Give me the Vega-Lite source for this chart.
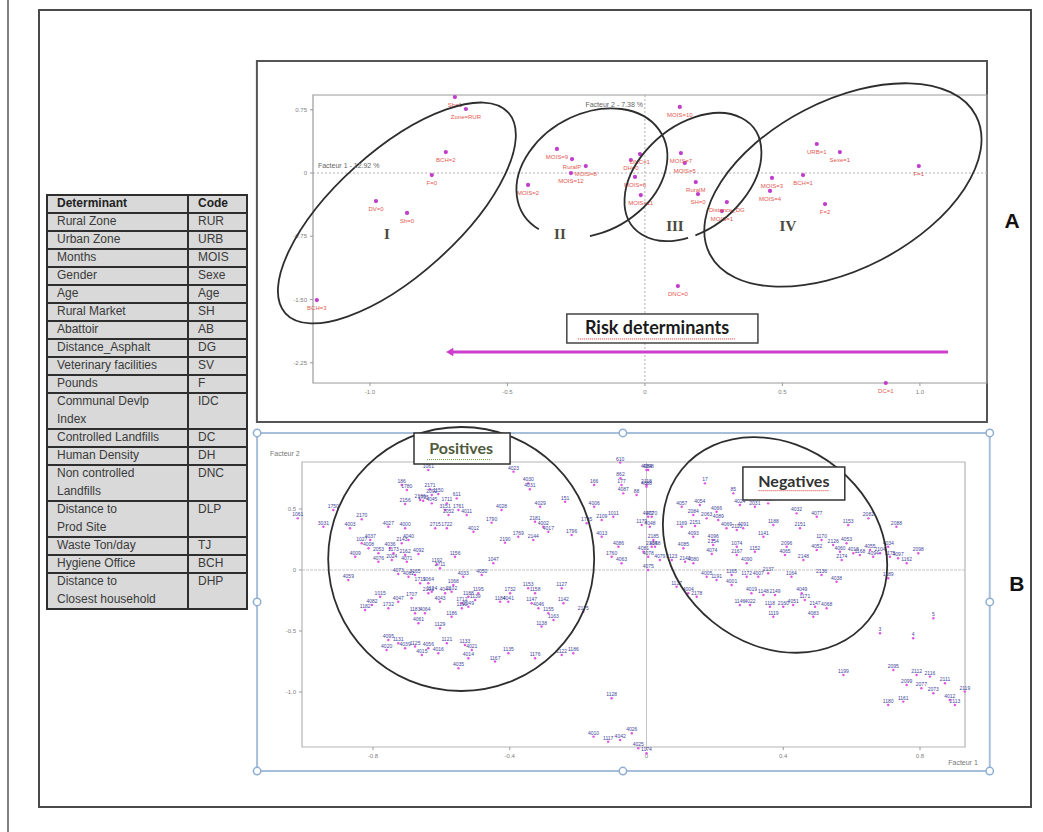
{
"$schema":"https://vega.github.io/schema/vega-lite/v6.json",
"width":992,"height":797,
"autosize":{"type":"none"},
"padding":{"left":39,"top":10,"right":12,"bottom":25},
"background":"#ffffff",
"config":{"view":{"stroke":"#4a4a4a","strokeWidth":2},"font":"Liberation Sans"},
"datasets":{
"table":[
{"det":"Determinant","code":"Code","r0":0,"r1":1},
{"det":"Rural  Zone","code":"RUR","r0":1,"r1":2},
{"det":"Urban Zone","code":"URB","r0":2,"r1":3},
{"det":"Months","code":"MOIS","r0":3,"r1":4},
{"det":"Gender","code":"Sexe","r0":4,"r1":5},
{"det":"Age","code":"Age","r0":5,"r1":6},
{"det":"Rural Market","code":"SH","r0":6,"r1":7},
{"det":"Abattoir","code":"AB","r0":7,"r1":8},
{"det":"Distance_Asphalt","code":"DG","r0":8,"r1":9},
{"det":"Veterinary facilities","code":"SV","r0":9,"r1":10},
{"det":"Pounds","code":"F","r0":10,"r1":11},
{"det":"Communal Devlp\nIndex","code":"IDC","r0":11,"r1":13},
{"det":"Controlled Landfills","code":"DC","r0":13,"r1":14},
{"det":"Human Density","code":"DH","r0":14,"r1":15},
{"det":"Non controlled\nLandfills","code":"DNC","r0":15,"r1":17},
{"det":"Distance to\nProd Site","code":"DLP","r0":17,"r1":19},
{"det":"Waste Ton/day","code":"TJ","r0":19,"r1":20},
{"det":"Hygiene Office","code":"BCH","r0":20,"r1":21},
{"det":"Distance to\nClosest household","code":"DHP","r0":21,"r1":23}
],
"ticksAx":[{"v":-1,"t":"-1.0"},{"v":-0.5,"t":"-0.5"},{"v":0,"t":"0"},{"v":0.5,"t":"0.5"},{"v":1,"t":"1.0"}],
"ticksAy":[{"v":0.75,"t":"0.75"},{"v":0,"t":"0"},{"v":-0.75,"t":"-0.75"},{"v":-1.5,"t":"-1.50"},{"v":-2.25,"t":"-2.25"}],
"ticksBx":[{"v":-0.8,"t":"-0.8"},{"v":-0.4,"t":"-0.4"},{"v":0,"t":"0"},{"v":0.4,"t":"0.4"},{"v":0.8,"t":"0.8"}],
"ticksBy":[{"v":0.5,"t":"0.5"},{"v":0,"t":"0"},{"v":-0.5,"t":"-0.5"},{"v":-1,"t":"-1.0"}],
"a":[
{"x":-0.691,"y":0.901,"label":"Sh=1"},
{"x":-0.651,"y":0.759,"label":"Zone=RUR"},
{"x":-0.724,"y":0.249,"label":"BCH=2"},
{"x":-0.775,"y":-0.024,"label":"F=0"},
{"x":-0.978,"y":-0.332,"label":"DV=0"},
{"x":-0.865,"y":-0.474,"label":"Sh=0"},
{"x":-1.193,"y":-1.506,"label":"BCH=3"},
{"x":-0.320,"y":0.285,"label":"MOIS=9"},
{"x":-0.265,"y":0.166,"label":"RuralP"},
{"x":-0.215,"y":0.083,"label":"MOIS=8"},
{"x":-0.269,"y":0.0,"label":"MOIS=12"},
{"x":-0.425,"y":-0.142,"label":"MOIS=2"},
{"x":-0.018,"y":0.225,"label":"DNC=1"},
{"x":-0.051,"y":0.154,"label":"DH=0"},
{"x":-0.036,"y":-0.047,"label":"MOIS=6"},
{"x":-0.015,"y":-0.261,"label":"MOIS=11"},
{"x":0.127,"y":0.783,"label":"MOIS=10"},
{"x":0.131,"y":0.237,"label":"MOIS=7"},
{"x":0.145,"y":0.119,"label":"MOIS=5"},
{"x":0.185,"y":-0.107,"label":"RuralM"},
{"x":0.193,"y":-0.249,"label":"SH=0"},
{"x":0.298,"y":-0.344,"label":"Distance_DG"},
{"x":0.280,"y":-0.451,"label":"MOIS=1"},
{"x":0.462,"y":-0.059,"label":"MOIS=3"},
{"x":0.455,"y":-0.213,"label":"MOIS=4"},
{"x":0.575,"y":-0.024,"label":"BCH=1"},
{"x":0.625,"y":0.344,"label":"URB=1"},
{"x":0.709,"y":0.249,"label":"Sexe=1"},
{"x":0.996,"y":0.083,"label":"F=1"},
{"x":0.655,"y":-0.368,"label":"F=2"},
{"x":0.120,"y":-1.340,"label":"DNC=0"},
{"x":0.876,"y":-2.49,"label":"DC=1"}
],
"roman":[
{"x":-0.938,"y":-0.723,"t":"I"},
{"x":-0.309,"y":-0.723,"t":"II"},
{"x":0.109,"y":-0.628,"t":"III"},
{"x":0.52,"y":-0.628,"t":"IV"}
],
"handles":[
{"x":-1.139,"y":1.123},{"x":-0.069,"y":1.123},{"x":1.004,"y":1.123},
{"x":-1.139,"y":-0.262},{"x":1.004,"y":-0.262},
{"x":-1.139,"y":-1.648},{"x":-0.069,"y":-1.648},{"x":1.004,"y":-1.648}
],
"b":[
{"x":-0.638,"y":0.820,"id":"1061"},{"x":-0.389,"y":0.806,"id":"4023"},{"x":-0.346,"y":0.710,"id":"4030"},{"x":-0.341,"y":0.661,"id":"4031"},
{"x":-0.716,"y":0.697,"id":"186"},{"x":-0.701,"y":0.656,"id":"1780"},{"x":-0.633,"y":0.661,"id":"2171"},{"x":-0.628,"y":0.615,"id":"2092"},
{"x":-0.609,"y":0.623,"id":"1150"},{"x":-0.662,"y":0.574,"id":"2166"},{"x":-0.653,"y":0.568,"id":"1735"},{"x":-0.706,"y":0.541,"id":"2156"},
{"x":-0.628,"y":0.546,"id":"4045"},{"x":-0.584,"y":0.546,"id":"1711"},{"x":-0.589,"y":0.492,"id":"3151"},{"x":-0.555,"y":0.587,"id":"611"},
{"x":-0.579,"y":0.451,"id":"2052"},{"x":-0.526,"y":0.451,"id":"4011"},{"x":-0.424,"y":0.492,"id":"4028"},{"x":-0.311,"y":0.519,"id":"4029"},
{"x":-0.238,"y":0.560,"id":"151"},{"x":-0.153,"y":0.697,"id":"166"},{"x":-0.153,"y":0.519,"id":"4006"},{"x":-0.077,"y":0.880,"id":"610"},
{"x":-0.076,"y":0.751,"id":"862"},{"x":-0.073,"y":0.697,"id":"177"},{"x":-0.068,"y":0.628,"id":"4087"},{"x":-0.029,"y":0.615,"id":"88"},
{"x":0.005,"y":0.820,"id":"4098"},{"x":0.000,"y":0.697,"id":"2118"},{"x":0.015,"y":0.437,"id":"4070"},{"x":-0.916,"y":0.492,"id":"1750"},
{"x":-1.020,"y":0.423,"id":"1061"},{"x":-0.945,"y":0.355,"id":"3031"},{"x":-0.833,"y":0.415,"id":"2170"},{"x":-0.867,"y":0.342,"id":"4003"},
{"x":-0.755,"y":0.355,"id":"4027"},{"x":-0.706,"y":0.342,"id":"4000"},{"x":-0.618,"y":0.342,"id":"2715"},{"x":-0.584,"y":0.342,"id":"1722"},
{"x":-0.506,"y":0.314,"id":"4012"},{"x":-0.453,"y":0.388,"id":"1790"},{"x":-0.326,"y":0.396,"id":"2181"},{"x":-0.302,"y":0.355,"id":"4002"},
{"x":-0.287,"y":0.314,"id":"4017"},{"x":-0.219,"y":0.287,"id":"1796"},{"x":-0.175,"y":0.383,"id":"1785"},{"x":-0.131,"y":0.410,"id":"2109"},
{"x":-0.097,"y":0.437,"id":"1011"},{"x":-0.131,"y":0.273,"id":"4013"},{"x":-0.082,"y":0.191,"id":"4086"},{"x":-0.102,"y":0.109,"id":"1760"},
{"x":-0.073,"y":0.055,"id":"4063"},{"x":-0.009,"y":0.150,"id":"4081"},{"x":0.015,"y":0.191,"id":"2134"},{"x":-0.014,"y":0.369,"id":"1179"},
{"x":-0.808,"y":0.246,"id":"4037"},{"x":-0.833,"y":0.219,"id":"1027"},{"x":-0.813,"y":0.178,"id":"4008"},{"x":-0.784,"y":0.137,"id":"2053"},
{"x":-0.852,"y":0.109,"id":"4009"},{"x":-0.750,"y":0.178,"id":"4036"},{"x":-0.716,"y":0.219,"id":"2143"},{"x":-0.696,"y":0.246,"id":"4040"},
{"x":-0.740,"y":0.137,"id":"1173"},{"x":-0.706,"y":0.123,"id":"2162"},{"x":-0.667,"y":0.131,"id":"4092"},{"x":-0.784,"y":0.068,"id":"4076"},
{"x":-0.745,"y":0.082,"id":"2024"},{"x":-0.701,"y":0.068,"id":"4071"},{"x":-0.613,"y":0.046,"id":"1192"},{"x":-0.560,"y":0.109,"id":"1156"},
{"x":-0.872,"y":-0.082,"id":"4059"},{"x":-0.726,"y":-0.033,"id":"4073"},{"x":-0.696,"y":-0.055,"id":"4062"},{"x":-0.677,"y":-0.041,"id":"3165"},
{"x":-0.604,"y":0.014,"id":"2711"},{"x":-0.536,"y":-0.055,"id":"4033"},{"x":-0.482,"y":-0.041,"id":"4050"},{"x":-0.448,"y":0.055,"id":"1047"},
{"x":-0.375,"y":0.273,"id":"1769"},{"x":-0.331,"y":0.246,"id":"2144"},{"x":-0.414,"y":0.224,"id":"2190"},{"x":-0.550,"y":0.492,"id":"1761"},
{"x":-0.662,"y":-0.109,"id":"1719"},{"x":-0.638,"y":-0.109,"id":"1064"},{"x":-0.628,"y":-0.178,"id":"1124"},{"x":-0.565,"y":-0.123,"id":"1068"},
{"x":-0.570,"y":-0.178,"id":"2102"},{"x":-0.589,"y":-0.191,"id":"4044"},{"x":-0.521,"y":-0.219,"id":"1188"},{"x":-0.492,"y":-0.191,"id":"1195"},
{"x":-0.501,"y":-0.246,"id":"1139"},{"x":-0.540,"y":-0.273,"id":"1712"},{"x":-0.604,"y":-0.260,"id":"4043"},{"x":-0.638,"y":-0.191,"id":"2193"},
{"x":-0.687,"y":-0.232,"id":"1707"},{"x":-0.726,"y":-0.260,"id":"4047"},{"x":-0.779,"y":-0.219,"id":"1015"},{"x":-0.803,"y":-0.287,"id":"4082"},
{"x":-0.755,"y":-0.314,"id":"1732"},{"x":-0.823,"y":-0.328,"id":"1182"},{"x":-0.677,"y":-0.355,"id":"1183"},{"x":-0.648,"y":-0.355,"id":"4064"},
{"x":-0.667,"y":-0.437,"id":"4061"},{"x":-0.604,"y":-0.478,"id":"1129"},{"x":-0.570,"y":-0.383,"id":"1186"},{"x":-0.540,"y":-0.314,"id":"1190"},
{"x":-0.521,"y":-0.301,"id":"2049"},{"x":-0.428,"y":-0.260,"id":"1184"},{"x":-0.399,"y":-0.191,"id":"1732"},{"x":-0.404,"y":-0.260,"id":"4041"},
{"x":-0.346,"y":-0.150,"id":"1153"},{"x":-0.326,"y":-0.191,"id":"1158"},{"x":-0.336,"y":-0.273,"id":"1147"},{"x":-0.316,"y":-0.314,"id":"4046"},
{"x":-0.287,"y":-0.355,"id":"1155"},{"x":-0.272,"y":-0.410,"id":"1163"},{"x":-0.248,"y":-0.150,"id":"1127"},{"x":-0.243,"y":-0.273,"id":"1142"},
{"x":-0.185,"y":-0.342,"id":"2175"},{"x":-0.307,"y":-0.464,"id":"1138"},{"x":-0.755,"y":-0.574,"id":"4095"},{"x":-0.726,"y":-0.601,"id":"1131"},
{"x":-0.760,"y":-0.656,"id":"4020"},{"x":-0.706,"y":-0.642,"id":"4039"},{"x":-0.677,"y":-0.628,"id":"1125"},{"x":-0.657,"y":-0.697,"id":"4015"},
{"x":-0.638,"y":-0.642,"id":"4056"},{"x":-0.609,"y":-0.683,"id":"4016"},{"x":-0.584,"y":-0.601,"id":"1121"},{"x":-0.531,"y":-0.615,"id":"1133"},
{"x":-0.511,"y":-0.656,"id":"4021"},{"x":-0.521,"y":-0.724,"id":"4014"},{"x":-0.550,"y":-0.806,"id":"4035"},{"x":-0.443,"y":-0.751,"id":"1167"},
{"x":-0.404,"y":-0.683,"id":"1135"},{"x":-0.326,"y":-0.724,"id":"1176"},{"x":-0.248,"y":-0.697,"id":"1122"},{"x":-0.214,"y":-0.683,"id":"1186"},
{"x":-0.102,"y":-1.052,"id":"1128"},{"x":-0.155,"y":-1.366,"id":"4010"},{"x":-0.112,"y":-1.407,"id":"1117"},{"x":-0.077,"y":-1.393,"id":"4042"},
{"x":-0.043,"y":-1.339,"id":"4026"},{"x":-0.024,"y":-1.462,"id":"4025"},{"x":0.000,"y":-1.503,"id":"1174"},{"x":0.000,"y":0.820,"id":"4084"},
{"x":0.000,"y":0.683,"id":"4088"},{"x":0.005,"y":0.437,"id":"4072"},{"x":0.010,"y":0.355,"id":"4048"},{"x":0.020,"y":0.246,"id":"2185"},
{"x":0.025,"y":0.191,"id":"4058"},{"x":0.005,"y":0.109,"id":"4078"},{"x":0.039,"y":0.082,"id":"4079"},{"x":0.074,"y":0.082,"id":"2123"},
{"x":0.005,"y":0.000,"id":"4075"},{"x":0.088,"y":-0.137,"id":"1137"},{"x":0.171,"y":0.710,"id":"17"},{"x":0.254,"y":0.628,"id":"85"},
{"x":0.103,"y":0.519,"id":"4057"},{"x":0.156,"y":0.533,"id":"4054"},{"x":0.137,"y":0.451,"id":"2084"},{"x":0.205,"y":0.478,"id":"4066"},
{"x":0.176,"y":0.423,"id":"2063"},{"x":0.210,"y":0.410,"id":"4089"},{"x":0.273,"y":0.533,"id":"4024"},{"x":0.317,"y":0.519,"id":"2031"},
{"x":0.356,"y":0.546,"id":"4067"},{"x":0.103,"y":0.355,"id":"1169"},{"x":0.142,"y":0.361,"id":"2151"},{"x":0.234,"y":0.342,"id":"4069"},
{"x":0.264,"y":0.328,"id":"2110"},{"x":0.283,"y":0.342,"id":"4091"},{"x":0.371,"y":0.369,"id":"1188"},{"x":0.439,"y":0.464,"id":"4032"},
{"x":0.449,"y":0.342,"id":"2151"},{"x":0.498,"y":0.437,"id":"4077"},{"x":0.590,"y":0.369,"id":"1153"},{"x":0.649,"y":0.423,"id":"2082"},
{"x":0.731,"y":0.355,"id":"2088"},{"x":0.137,"y":0.273,"id":"4093"},{"x":0.195,"y":0.246,"id":"4096"},{"x":0.195,"y":0.205,"id":"2154"},
{"x":0.264,"y":0.191,"id":"1074"},{"x":0.342,"y":0.273,"id":"1141"},{"x":0.108,"y":0.178,"id":"4085"},{"x":0.191,"y":0.131,"id":"4074"},
{"x":0.113,"y":0.068,"id":"2140"},{"x":0.137,"y":0.055,"id":"4080"},{"x":0.264,"y":0.123,"id":"2167"},{"x":0.317,"y":0.150,"id":"1152"},
{"x":0.293,"y":0.055,"id":"4090"},{"x":0.410,"y":0.191,"id":"2096"},{"x":0.405,"y":0.123,"id":"4065"},{"x":0.459,"y":0.082,"id":"2148"},
{"x":0.498,"y":0.164,"id":"4052"},{"x":0.512,"y":0.246,"id":"1170"},{"x":0.546,"y":0.205,"id":"2126"},{"x":0.566,"y":0.150,"id":"4060"},
{"x":0.585,"y":0.219,"id":"4053"},{"x":0.571,"y":0.082,"id":"2174"},{"x":0.605,"y":0.137,"id":"4018"},{"x":0.624,"y":0.123,"id":"1168"},
{"x":0.654,"y":0.164,"id":"4055"},{"x":0.663,"y":0.109,"id":"4094"},{"x":0.683,"y":0.137,"id":"2104"},{"x":0.707,"y":0.191,"id":"4034"},
{"x":0.712,"y":0.109,"id":"1175"},{"x":0.736,"y":0.096,"id":"4097"},{"x":0.761,"y":0.055,"id":"1162"},{"x":0.795,"y":0.137,"id":"2098"},
{"x":0.176,"y":-0.055,"id":"4005"},{"x":0.205,"y":-0.082,"id":"1191"},{"x":0.249,"y":-0.041,"id":"1165"},{"x":0.249,"y":-0.123,"id":"4001"},
{"x":0.293,"y":-0.055,"id":"1172"},{"x":0.327,"y":-0.055,"id":"4007"},{"x":0.356,"y":-0.027,"id":"2137"},{"x":0.424,"y":-0.055,"id":"1164"},
{"x":0.512,"y":-0.041,"id":"2136"},{"x":0.556,"y":-0.096,"id":"4038"},{"x":0.707,"y":-0.068,"id":"1189"},{"x":0.122,"y":-0.191,"id":"4004"},
{"x":0.147,"y":-0.219,"id":"2178"},{"x":0.307,"y":-0.191,"id":"4019"},{"x":0.342,"y":-0.205,"id":"1148"},{"x":0.376,"y":-0.205,"id":"2149"},
{"x":0.454,"y":-0.191,"id":"4049"},{"x":0.463,"y":-0.246,"id":"1171"},{"x":0.273,"y":-0.287,"id":"1146"},{"x":0.303,"y":-0.287,"id":"4022"},
{"x":0.361,"y":-0.301,"id":"1118"},{"x":0.400,"y":-0.301,"id":"2160"},{"x":0.429,"y":-0.287,"id":"4051"},{"x":0.493,"y":-0.301,"id":"2147"},
{"x":0.527,"y":-0.314,"id":"4068"},{"x":0.371,"y":-0.383,"id":"1119"},{"x":0.488,"y":-0.383,"id":"4083"},{"x":0.839,"y":-0.396,"id":"5"},
{"x":0.683,"y":-0.519,"id":"3"},{"x":0.780,"y":-0.560,"id":"4"},{"x":0.576,"y":-0.861,"id":"1199"},{"x":0.722,"y":-0.820,"id":"2095"},
{"x":0.790,"y":-0.861,"id":"2112"},{"x":0.829,"y":-0.874,"id":"2116"},{"x":0.761,"y":-0.943,"id":"2099"},{"x":0.804,"y":-0.970,"id":"2077"},
{"x":0.839,"y":-1.011,"id":"2073"},{"x":0.873,"y":-0.929,"id":"2111"},{"x":0.887,"y":-1.066,"id":"4012"},{"x":0.931,"y":-0.997,"id":"2119"},
{"x":0.902,"y":-1.107,"id":"2113"},{"x":0.707,"y":-1.107,"id":"1180"},{"x":0.751,"y":-1.079,"id":"1161"}
]
},
"resolve":{"scale":{"x":"independent","y":"independent"}},
"layer":[
{
"layer":[
{"data":{"values":[{}]},"mark":{"type":"rule","stroke":"#000000","strokeWidth":1},
 "encoding":{"x":{"datum":-0.195,"type":"quantitative","scale":{"domain":[0,1],"range":[8,208],"nice":false,"zero":false},"axis":null},
 "y":{"datum":-10.9,"type":"quantitative","scale":{"domain":[0,23],"range":[185,599],"nice":false,"zero":false},"axis":null},"y2":{"datum":35.5}}},
{"data":{"name":"table"},"mark":{"type":"rect","fill":"#d9d9d9","stroke":"#2e2e2e","strokeWidth":2},
 "encoding":{"x":{"datum":0,"type":"quantitative","scale":{"domain":[0,1],"range":[8,208],"nice":false,"zero":false},"axis":null},"x2":{"datum":1},
 "y":{"field":"r0","type":"quantitative","scale":{"domain":[0,23],"range":[185,599],"nice":false,"zero":false},"axis":null},"y2":{"field":"r1"}}},
{"data":{"values":[{}]},"mark":{"type":"rule","stroke":"#2e2e2e","strokeWidth":2},
 "encoding":{"x":{"datum":0.705,"type":"quantitative","scale":{"domain":[0,1],"range":[8,208],"nice":false,"zero":false},"axis":null},
 "y":{"datum":0,"type":"quantitative","scale":{"domain":[0,23],"range":[185,599],"nice":false,"zero":false},"axis":null},"y2":{"datum":23}}},
{"data":{"name":"table"},"transform":[{"filter":"datum.r0 > 0"}],
 "mark":{"type":"text","align":"left","baseline":"top","dx":10,"dy":3,"fontSize":12,"lineHeight":18,"lineBreak":"\n","color":"#3a3a3a","font":"Liberation Sans"},
 "encoding":{"x":{"datum":0,"type":"quantitative","scale":{"domain":[0,1],"range":[8,208],"nice":false,"zero":false},"axis":null},
 "y":{"field":"r0","type":"quantitative","scale":{"domain":[0,23],"range":[185,599],"nice":false,"zero":false},"axis":null},"text":{"field":"det"}}},
{"data":{"name":"table"},"transform":[{"filter":"datum.r0 > 0"}],
 "mark":{"type":"text","align":"left","baseline":"top","dx":10,"dy":3,"fontSize":12,"color":"#3a3a3a","font":"Liberation Sans"},
 "encoding":{"x":{"datum":0.705,"type":"quantitative","scale":{"domain":[0,1],"range":[8,208],"nice":false,"zero":false},"axis":null},
 "y":{"field":"r0","type":"quantitative","scale":{"domain":[0,23],"range":[185,599],"nice":false,"zero":false},"axis":null},"text":{"field":"code"}}},
{"data":{"name":"table"},"transform":[{"filter":"datum.r0 == 0"}],
 "mark":{"type":"text","align":"left","baseline":"top","dx":10,"dy":3,"fontSize":12,"fontWeight":"bold","color":"#222222","font":"Liberation Sans"},
 "encoding":{"x":{"datum":0,"type":"quantitative","scale":{"domain":[0,1],"range":[8,208],"nice":false,"zero":false},"axis":null},
 "y":{"field":"r0","type":"quantitative","scale":{"domain":[0,23],"range":[185,599],"nice":false,"zero":false},"axis":null},"text":{"field":"det"}}},
{"data":{"name":"table"},"transform":[{"filter":"datum.r0 == 0"}],
 "mark":{"type":"text","align":"left","baseline":"top","dx":10,"dy":3,"fontSize":12,"fontWeight":"bold","color":"#222222","font":"Liberation Sans"},
 "encoding":{"x":{"datum":0.705,"type":"quantitative","scale":{"domain":[0,1],"range":[8,208],"nice":false,"zero":false},"axis":null},
 "y":{"field":"r0","type":"quantitative","scale":{"domain":[0,23],"range":[185,599],"nice":false,"zero":false},"axis":null},"text":{"field":"code"}}}
]
},
{
"layer":[
{"data":{"values":[{}]},"mark":{"type":"rect","fillOpacity":0,"stroke":"#555555","strokeWidth":2},
 "encoding":{"x":{"datum":-1.411,"type":"quantitative","scale":{"domain":[-1.207,1.244],"range":[274,948],"nice":false,"zero":false},"axis":null},"x2":{"datum":1.244},
 "y":{"datum":1.328,"type":"quantitative","scale":{"domain":[-2.49,0.925],"range":[373,85],"nice":false,"zero":false},"axis":null},"y2":{"datum":-2.953}}},
{"data":{"values":[{}]},"mark":{"type":"rect","fillOpacity":0,"stroke":"#9a9a9a","strokeWidth":1.2},
 "encoding":{"x":{"datum":-1.207,"type":"quantitative","scale":{"domain":[-1.207,1.244],"range":[274,948],"nice":false,"zero":false},"axis":null},"x2":{"datum":1.244},
 "y":{"datum":0.925,"type":"quantitative","scale":{"domain":[-2.49,0.925],"range":[373,85],"nice":false,"zero":false},"axis":null},"y2":{"datum":-2.49}}},
{"data":{"values":[{}]},"mark":{"type":"rule","stroke":"#b0b0b0","strokeWidth":1,"strokeDash":[2,2]},
 "encoding":{"x":{"datum":0,"type":"quantitative","scale":{"domain":[-1.207,1.244],"range":[274,948],"nice":false,"zero":false},"axis":null},
 "y":{"datum":0.925,"type":"quantitative","scale":{"domain":[-2.49,0.925],"range":[373,85],"nice":false,"zero":false},"axis":null},"y2":{"datum":-2.49}}},
{"data":{"values":[{}]},"mark":{"type":"rule","stroke":"#b0b0b0","strokeWidth":1,"strokeDash":[2,2]},
 "encoding":{"x":{"datum":-1.207,"type":"quantitative","scale":{"domain":[-1.207,1.244],"range":[274,948],"nice":false,"zero":false},"axis":null},"x2":{"datum":1.244},
 "y":{"datum":0,"type":"quantitative","scale":{"domain":[-2.49,0.925],"range":[373,85],"nice":false,"zero":false},"axis":null}}},
{"data":{"name":"ticksAy"},"mark":{"type":"rule","stroke":"#999999","strokeWidth":1},
 "encoding":{"x":{"datum":-1.207,"type":"quantitative","scale":{"domain":[-1.207,1.244],"range":[274,948],"nice":false,"zero":false},"axis":null},"x2":{"datum":-1.218},
 "y":{"field":"v","type":"quantitative","scale":{"domain":[-2.49,0.925],"range":[373,85],"nice":false,"zero":false},"axis":null}}},
{"data":{"name":"ticksAy"},"mark":{"type":"text","align":"right","baseline":"middle","dx":-6,"fontSize":6,"color":"#808080"},
 "encoding":{"x":{"datum":-1.207,"type":"quantitative","scale":{"domain":[-1.207,1.244],"range":[274,948],"nice":false,"zero":false},"axis":null},
 "y":{"field":"v","type":"quantitative","scale":{"domain":[-2.49,0.925],"range":[373,85],"nice":false,"zero":false},"axis":null},"text":{"field":"t"}}},
{"data":{"name":"ticksAx"},"mark":{"type":"rule","stroke":"#999999","strokeWidth":1},
 "encoding":{"x":{"field":"v","type":"quantitative","scale":{"domain":[-1.207,1.244],"range":[274,948],"nice":false,"zero":false},"axis":null},
 "y":{"datum":-2.49,"type":"quantitative","scale":{"domain":[-2.49,0.925],"range":[373,85],"nice":false,"zero":false},"axis":null},"y2":{"datum":-2.526}}},
{"data":{"name":"ticksAx"},"mark":{"type":"text","align":"center","baseline":"top","dy":6,"fontSize":6,"color":"#808080"},
 "encoding":{"x":{"field":"v","type":"quantitative","scale":{"domain":[-1.207,1.244],"range":[274,948],"nice":false,"zero":false},"axis":null},
 "y":{"datum":-2.49,"type":"quantitative","scale":{"domain":[-2.49,0.925],"range":[373,85],"nice":false,"zero":false},"axis":null},"text":{"field":"t"}}},
{"data":{"name":"a"},"mark":{"type":"point","filled":true,"size":18,"color":"#c13ecb","opacity":1},
 "encoding":{"x":{"field":"x","type":"quantitative","scale":{"domain":[-1.207,1.244],"range":[274,948],"nice":false,"zero":false},"axis":null},
 "y":{"field":"y","type":"quantitative","scale":{"domain":[-2.49,0.925],"range":[373,85],"nice":false,"zero":false},"axis":null}}},
{"data":{"name":"a"},"mark":{"type":"text","fontSize":6,"color":"#e4574f","dy":8,"align":"center"},
 "encoding":{"x":{"field":"x","type":"quantitative","scale":{"domain":[-1.207,1.244],"range":[274,948],"nice":false,"zero":false},"axis":null},
 "y":{"field":"y","type":"quantitative","scale":{"domain":[-2.49,0.925],"range":[373,85],"nice":false,"zero":false},"axis":null},"text":{"field":"label"}}},
{"data":{"values":[{}]},"mark":{"type":"point","shape":"M -150 0 A 150 62 0 1 1 150 0 A 150 62 0 1 1 -150 0 Z","size":4,"angle":-42,"filled":false,"stroke":"#2e2e2e","strokeWidth":1.8,"opacity":1},
 "encoding":{"x":{"datum":-0.902,"type":"quantitative","scale":{"domain":[-1.207,1.244],"range":[274,948],"nice":false,"zero":false},"axis":null},
 "y":{"datum":-0.474,"type":"quantitative","scale":{"domain":[-2.49,0.925],"range":[373,85],"nice":false,"zero":false},"axis":null}}},
{"data":{"values":[{}]},"mark":{"type":"point","shape":"M -73.8 22.8 A 80 59 0 1 1 -32.7 53.9","size":4,"angle":-29.5,"filled":false,"stroke":"#2e2e2e","strokeWidth":1.8,"opacity":1},
 "encoding":{"x":{"datum":-0.193,"type":"quantitative","scale":{"domain":[-1.207,1.244],"range":[274,948],"nice":false,"zero":false},"axis":null},
 "y":{"datum":0,"type":"quantitative","scale":{"domain":[-2.49,0.925],"range":[373,85],"nice":false,"zero":false},"axis":null}}},
{"data":{"values":[{}]},"mark":{"type":"point","shape":"M -42.9 43.4 A 78 52 0 1 1 -35.7 46.2","size":4,"angle":-40,"filled":false,"stroke":"#2e2e2e","strokeWidth":1.8,"opacity":1},
 "encoding":{"x":{"datum":0.175,"type":"quantitative","scale":{"domain":[-1.207,1.244],"range":[274,948],"nice":false,"zero":false},"axis":null},
 "y":{"datum":-0.047,"type":"quantitative","scale":{"domain":[-2.49,0.925],"range":[373,85],"nice":false,"zero":false},"axis":null}}},
{"data":{"values":[{}]},"mark":{"type":"point","shape":"M -150 0 A 150 84 0 1 1 150 0 A 150 84 0 1 1 -150 0 Z","size":4,"angle":-27.5,"filled":false,"stroke":"#2e2e2e","strokeWidth":1.8,"opacity":1},
 "encoding":{"x":{"datum":0.72,"type":"quantitative","scale":{"domain":[-1.207,1.244],"range":[274,948],"nice":false,"zero":false},"axis":null},
 "y":{"datum":-0.142,"type":"quantitative","scale":{"domain":[-2.49,0.925],"range":[373,85],"nice":false,"zero":false},"axis":null}}},
{"data":{"name":"roman"},"mark":{"type":"text","fontSize":15,"fontWeight":"bold","font":"Liberation Serif","color":"#4a4a40"},
 "encoding":{"x":{"field":"x","type":"quantitative","scale":{"domain":[-1.207,1.244],"range":[274,948],"nice":false,"zero":false},"axis":null},
 "y":{"field":"y","type":"quantitative","scale":{"domain":[-2.49,0.925],"range":[373,85],"nice":false,"zero":false},"axis":null},"text":{"field":"t"}}},
{"data":{"values":[{}]},"mark":{"type":"rect","fill":"#ffffff","stroke":"#444444","strokeWidth":1.5},
 "encoding":{"x":{"datum":-0.284,"type":"quantitative","scale":{"domain":[-1.207,1.244],"range":[274,948],"nice":false,"zero":false},"axis":null},"x2":{"datum":0.411},
 "y":{"datum":-1.672,"type":"quantitative","scale":{"domain":[-2.49,0.925],"range":[373,85],"nice":false,"zero":false},"axis":null},"y2":{"datum":-2.016}}},
{"data":{"values":[{}]},"mark":{"type":"text","text":"Risk determinants","fontSize":18,"fontWeight":"bold","font":"Lato","color":"#1a1a1a"},
 "encoding":{"x":{"datum":0.044,"type":"quantitative","scale":{"domain":[-1.207,1.244],"range":[274,948],"nice":false,"zero":false},"axis":null},
 "y":{"datum":-1.85,"type":"quantitative","scale":{"domain":[-2.49,0.925],"range":[373,85],"nice":false,"zero":false},"axis":null}}},
{"data":{"values":[{}]},"mark":{"type":"rule","stroke":"#e03030","strokeWidth":1,"strokeDash":[1,1]},
 "encoding":{"x":{"datum":-0.244,"type":"quantitative","scale":{"domain":[-1.207,1.244],"range":[274,948],"nice":false,"zero":false},"axis":null},"x2":{"datum":0.327},
 "y":{"datum":-1.968,"type":"quantitative","scale":{"domain":[-2.49,0.925],"range":[373,85],"nice":false,"zero":false},"axis":null}}},
{"data":{"values":[{}]},"mark":{"type":"rule","stroke":"#cc3fcc","strokeWidth":3},
 "encoding":{"x":{"datum":-0.70,"type":"quantitative","scale":{"domain":[-1.207,1.244],"range":[274,948],"nice":false,"zero":false},"axis":null},"x2":{"datum":1.102},
 "y":{"datum":-2.123,"type":"quantitative","scale":{"domain":[-2.49,0.925],"range":[373,85],"nice":false,"zero":false},"axis":null}}},
{"data":{"values":[{}]},"mark":{"type":"point","shape":"triangle-left","size":70,"filled":true,"color":"#cc3fcc","opacity":1},
 "encoding":{"x":{"datum":-0.71,"type":"quantitative","scale":{"domain":[-1.207,1.244],"range":[274,948],"nice":false,"zero":false},"axis":null},
 "y":{"datum":-2.123,"type":"quantitative","scale":{"domain":[-2.49,0.925],"range":[373,85],"nice":false,"zero":false},"axis":null}}},
{"data":{"values":[{}]},"mark":{"type":"text","text":"Facteur 1 - 12.92 %","fontSize":7,"align":"left","color":"#666666"},
 "encoding":{"x":{"datum":-1.189,"type":"quantitative","scale":{"domain":[-1.207,1.244],"range":[274,948],"nice":false,"zero":false},"axis":null},
 "y":{"datum":0.083,"type":"quantitative","scale":{"domain":[-2.49,0.925],"range":[373,85],"nice":false,"zero":false},"axis":null}}},
{"data":{"values":[{}]},"mark":{"type":"text","text":"Facteur 2 - 7.38 %","fontSize":7,"align":"right","color":"#666666"},
 "encoding":{"x":{"datum":-0.007,"type":"quantitative","scale":{"domain":[-1.207,1.244],"range":[274,948],"nice":false,"zero":false},"axis":null},
 "y":{"datum":0.806,"type":"quantitative","scale":{"domain":[-2.49,0.925],"range":[373,85],"nice":false,"zero":false},"axis":null}}},
{"data":{"values":[{}]},"mark":{"type":"text","text":"A","fontSize":21,"fontWeight":"bold","color":"#111111","font":"Liberation Sans"},
 "encoding":{"x":{"datum":1.335,"type":"quantitative","scale":{"domain":[-1.207,1.244],"range":[274,948],"nice":false,"zero":false},"axis":null},
 "y":{"datum":-0.581,"type":"quantitative","scale":{"domain":[-2.49,0.925],"range":[373,85],"nice":false,"zero":false},"axis":null}}}
]
},
{
"layer":[
{"data":{"values":[{}]},"mark":{"type":"rect","fillOpacity":0,"stroke":"#a7bfdb","strokeWidth":2},
 "encoding":{"x":{"datum":-1.139,"type":"quantitative","scale":{"domain":[-1.0076,0.9316],"range":[263,926],"nice":false,"zero":false},"axis":null},"x2":{"datum":1.004},
 "y":{"datum":1.123,"type":"quantitative","scale":{"domain":[-1.451,0.885],"range":[737,452],"nice":false,"zero":false},"axis":null},"y2":{"datum":-1.648}}},
{"data":{"values":[{}]},"mark":{"type":"rect","fillOpacity":0,"stroke":"#b5b5b5","strokeWidth":1.2},
 "encoding":{"x":{"datum":-1.0076,"type":"quantitative","scale":{"domain":[-1.0076,0.9316],"range":[263,926],"nice":false,"zero":false},"axis":null},"x2":{"datum":0.9316},
 "y":{"datum":0.885,"type":"quantitative","scale":{"domain":[-1.451,0.885],"range":[737,452],"nice":false,"zero":false},"axis":null},"y2":{"datum":-1.451}}},
{"data":{"values":[{}]},"mark":{"type":"rule","stroke":"#c4c4c4","strokeWidth":1},
 "encoding":{"x":{"datum":0,"type":"quantitative","scale":{"domain":[-1.0076,0.9316],"range":[263,926],"nice":false,"zero":false},"axis":null},
 "y":{"datum":0.885,"type":"quantitative","scale":{"domain":[-1.451,0.885],"range":[737,452],"nice":false,"zero":false},"axis":null},"y2":{"datum":-1.451}}},
{"data":{"values":[{}]},"mark":{"type":"rule","stroke":"#c4c4c4","strokeWidth":1,"strokeDash":[3,1]},
 "encoding":{"x":{"datum":-1.0076,"type":"quantitative","scale":{"domain":[-1.0076,0.9316],"range":[263,926],"nice":false,"zero":false},"axis":null},"x2":{"datum":0.9316},
 "y":{"datum":0,"type":"quantitative","scale":{"domain":[-1.451,0.885],"range":[737,452],"nice":false,"zero":false},"axis":null}}},
{"data":{"name":"ticksBy"},"mark":{"type":"rule","stroke":"#999999","strokeWidth":1},
 "encoding":{"x":{"datum":-1.0076,"type":"quantitative","scale":{"domain":[-1.0076,0.9316],"range":[263,926],"nice":false,"zero":false},"axis":null},"x2":{"datum":-1.0164},
 "y":{"field":"v","type":"quantitative","scale":{"domain":[-1.451,0.885],"range":[737,452],"nice":false,"zero":false},"axis":null}}},
{"data":{"name":"ticksBy"},"mark":{"type":"text","align":"right","baseline":"middle","dx":-6,"fontSize":6,"color":"#808080"},
 "encoding":{"x":{"datum":-1.0076,"type":"quantitative","scale":{"domain":[-1.0076,0.9316],"range":[263,926],"nice":false,"zero":false},"axis":null},
 "y":{"field":"v","type":"quantitative","scale":{"domain":[-1.451,0.885],"range":[737,452],"nice":false,"zero":false},"axis":null},"text":{"field":"t"}}},
{"data":{"name":"ticksBx"},"mark":{"type":"rule","stroke":"#999999","strokeWidth":1},
 "encoding":{"x":{"field":"v","type":"quantitative","scale":{"domain":[-1.0076,0.9316],"range":[263,926],"nice":false,"zero":false},"axis":null},
 "y":{"datum":-1.451,"type":"quantitative","scale":{"domain":[-1.451,0.885],"range":[737,452],"nice":false,"zero":false},"axis":null},"y2":{"datum":-1.476}}},
{"data":{"name":"ticksBx"},"mark":{"type":"text","align":"center","baseline":"top","dy":6,"fontSize":6,"color":"#808080"},
 "encoding":{"x":{"field":"v","type":"quantitative","scale":{"domain":[-1.0076,0.9316],"range":[263,926],"nice":false,"zero":false},"axis":null},
 "y":{"datum":-1.451,"type":"quantitative","scale":{"domain":[-1.451,0.885],"range":[737,452],"nice":false,"zero":false},"axis":null},"text":{"field":"t"}}},
{"data":{"name":"handles"},"mark":{"type":"point","filled":true,"size":55,"fill":"#ffffff","stroke":"#8eaed3","strokeWidth":1.5,"opacity":1},
 "encoding":{"x":{"field":"x","type":"quantitative","scale":{"domain":[-1.0076,0.9316],"range":[263,926],"nice":false,"zero":false},"axis":null},
 "y":{"field":"y","type":"quantitative","scale":{"domain":[-1.451,0.885],"range":[737,452],"nice":false,"zero":false},"axis":null}}},
{"data":{"name":"b"},"mark":{"type":"point","filled":true,"size":6,"color":"#e040e0","opacity":0.9},
 "encoding":{"x":{"field":"x","type":"quantitative","scale":{"domain":[-1.0076,0.9316],"range":[263,926],"nice":false,"zero":false},"axis":null},
 "y":{"field":"y","type":"quantitative","scale":{"domain":[-1.451,0.885],"range":[737,452],"nice":false,"zero":false},"axis":null}}},
{"data":{"name":"b"},"mark":{"type":"text","fontSize":5,"color":"#45459a","dy":-4,"align":"center"},
 "encoding":{"x":{"field":"x","type":"quantitative","scale":{"domain":[-1.0076,0.9316],"range":[263,926],"nice":false,"zero":false},"axis":null},
 "y":{"field":"y","type":"quantitative","scale":{"domain":[-1.451,0.885],"range":[737,452],"nice":false,"zero":false},"axis":null},"text":{"field":"id"}}},
{"data":{"values":[{}]},"mark":{"type":"point","shape":"M -133 0 A 133 132 0 1 1 133 0 A 133 132 0 1 1 -133 0 Z","size":4,"filled":false,"stroke":"#2e2e2e","strokeWidth":1.8,"opacity":1},
 "encoding":{"x":{"datum":-0.542,"type":"quantitative","scale":{"domain":[-1.0076,0.9316],"range":[263,926],"nice":false,"zero":false},"axis":null},
 "y":{"datum":0.090,"type":"quantitative","scale":{"domain":[-1.451,0.885],"range":[737,452],"nice":false,"zero":false},"axis":null}}},
{"data":{"values":[{}]},"mark":{"type":"point","shape":"M -120 0 A 120 99 0 1 1 120 0 A 120 99 0 1 1 -120 0 Z","size":4,"angle":39,"filled":false,"stroke":"#2e2e2e","strokeWidth":1.8,"opacity":1},
 "encoding":{"x":{"datum":0.376,"type":"quantitative","scale":{"domain":[-1.0076,0.9316],"range":[263,926],"nice":false,"zero":false},"axis":null},
 "y":{"datum":0.205,"type":"quantitative","scale":{"domain":[-1.451,0.885],"range":[737,452],"nice":false,"zero":false},"axis":null}}},
{"data":{"values":[{}]},"mark":{"type":"rect","fill":"#ffffff","stroke":"#333333","strokeWidth":1.5},
 "encoding":{"x":{"datum":-0.680,"type":"quantitative","scale":{"domain":[-1.0076,0.9316],"range":[263,926],"nice":false,"zero":false},"axis":null},"x2":{"datum":-0.399},
 "y":{"datum":1.123,"type":"quantitative","scale":{"domain":[-1.451,0.885],"range":[737,452],"nice":false,"zero":false},"axis":null},"y2":{"datum":0.869}}},
{"data":{"values":[{}]},"mark":{"type":"text","text":"Positives","fontSize":16,"fontWeight":"bold","font":"Lato","color":"#4f5a3c"},
 "encoding":{"x":{"datum":-0.542,"type":"quantitative","scale":{"domain":[-1.0076,0.9316],"range":[263,926],"nice":false,"zero":false},"axis":null},
 "y":{"datum":0.990,"type":"quantitative","scale":{"domain":[-1.451,0.885],"range":[737,452],"nice":false,"zero":false},"axis":null}}},
{"data":{"values":[{}]},"mark":{"type":"rule","stroke":"#6aa040","strokeWidth":1,"strokeDash":[1,1]},
 "encoding":{"x":{"datum":-0.642,"type":"quantitative","scale":{"domain":[-1.0076,0.9316],"range":[263,926],"nice":false,"zero":false},"axis":null},"x2":{"datum":-0.454},
 "y":{"datum":0.905,"type":"quantitative","scale":{"domain":[-1.451,0.885],"range":[737,452],"nice":false,"zero":false},"axis":null}}},
{"data":{"values":[{}]},"mark":{"type":"rect","fill":"#ffffff","stroke":"#333333","strokeWidth":1.5},
 "encoding":{"x":{"datum":0.282,"type":"quantitative","scale":{"domain":[-1.0076,0.9316],"range":[263,926],"nice":false,"zero":false},"axis":null},"x2":{"datum":0.580},
 "y":{"datum":0.844,"type":"quantitative","scale":{"domain":[-1.451,0.885],"range":[737,452],"nice":false,"zero":false},"axis":null},"y2":{"datum":0.574}}},
{"data":{"values":[{}]},"mark":{"type":"text","text":"Negatives","fontSize":16,"fontWeight":"bold","font":"Lato","color":"#333333"},
 "encoding":{"x":{"datum":0.431,"type":"quantitative","scale":{"domain":[-1.0076,0.9316],"range":[263,926],"nice":false,"zero":false},"axis":null},
 "y":{"datum":0.718,"type":"quantitative","scale":{"domain":[-1.451,0.885],"range":[737,452],"nice":false,"zero":false},"axis":null}}},
{"data":{"values":[{}]},"mark":{"type":"rule","stroke":"#e03030","strokeWidth":1,"strokeDash":[1,1]},
 "encoding":{"x":{"datum":0.328,"type":"quantitative","scale":{"domain":[-1.0076,0.9316],"range":[263,926],"nice":false,"zero":false},"axis":null},"x2":{"datum":0.534},
 "y":{"datum":0.650,"type":"quantitative","scale":{"domain":[-1.451,0.885],"range":[737,452],"nice":false,"zero":false},"axis":null}}},
{"data":{"values":[{}]},"mark":{"type":"text","text":"Facteur 2","fontSize":7,"align":"left","color":"#777777"},
 "encoding":{"x":{"datum":-1.101,"type":"quantitative","scale":{"domain":[-1.0076,0.9316],"range":[263,926],"nice":false,"zero":false},"axis":null},
 "y":{"datum":0.951,"type":"quantitative","scale":{"domain":[-1.451,0.885],"range":[737,452],"nice":false,"zero":false},"axis":null}}},
{"data":{"values":[{}]},"mark":{"type":"text","text":"Facteur 1","fontSize":7,"align":"right","color":"#777777"},
 "encoding":{"x":{"datum":0.969,"type":"quantitative","scale":{"domain":[-1.0076,0.9316],"range":[263,926],"nice":false,"zero":false},"axis":null},
 "y":{"datum":-1.582,"type":"quantitative","scale":{"domain":[-1.451,0.885],"range":[737,452],"nice":false,"zero":false},"axis":null}}},
{"data":{"values":[{}]},"mark":{"type":"text","text":"B","fontSize":21,"fontWeight":"bold","color":"#111111","font":"Liberation Sans"},
 "encoding":{"x":{"datum":1.083,"type":"quantitative","scale":{"domain":[-1.0076,0.9316],"range":[263,926],"nice":false,"zero":false},"axis":null},
 "y":{"datum":-0.123,"type":"quantitative","scale":{"domain":[-1.451,0.885],"range":[737,452],"nice":false,"zero":false},"axis":null}}}
]
}
]
}
